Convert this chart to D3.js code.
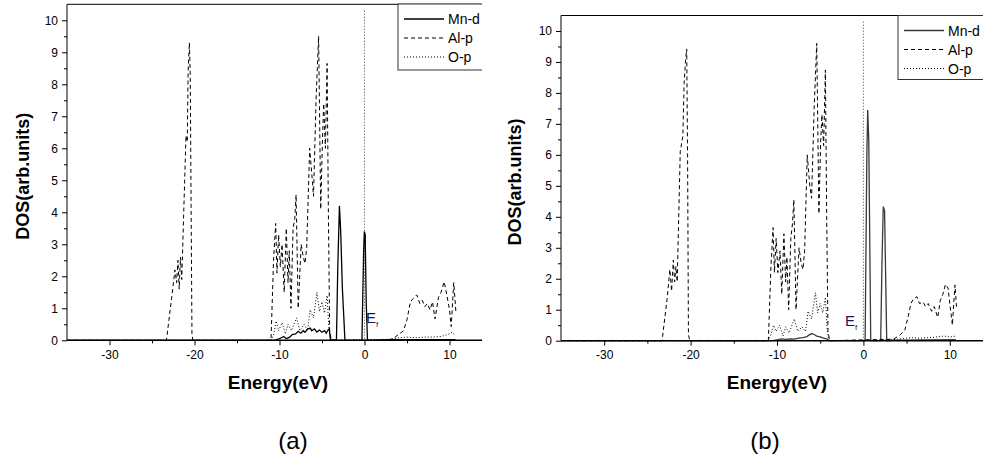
<!DOCTYPE html>
<html>
<head>
<meta charset="utf-8">
<script src="https://cdn.jsdelivr.net/npm/d3@7"></script>
<style>
  body { margin: 0; background: #fff; }
  svg { display: block; font-family: "Liberation Sans", Arial, sans-serif; }
</style>
</head>
<body>
<script>
// [energy (eV), DOS]
const mnA = [[-35,0],[-10.6,0],[-10,0.05],[-9.5,0.12],[-9.2,0.05],[-8.8,0.1],[-8.5,0.18],[-8.1,0.2],[-7.8,0.28],[-7.5,0.22],[-7.2,0.3],[-7.0,0.25],[-6.7,0.35],[-6.4,0.38],[-6.2,0.3],[-5.9,0.36],[-5.6,0.26],[-5.3,0.32],[-5.0,0.25],[-4.7,0.3],[-4.5,0.22],[-4.3,0.32],[-4.15,0.36],[-4.0,0.02],[-3.3,0],[-3.15,2.2],[-2.95,4.2],[-2.8,3.4],[-2.6,1.6],[-2.3,0],[-0.3,0],[-0.1,2.8],[-0.02,3.4],[0.08,3.3],[0.2,1.2],[0.35,0],[3.0,0.02],[10.7,0.02]];
const alA = [[-35,0],[-23.3,0],[-22.7,1.3],[-22.3,2.2],[-22.1,1.8],[-21.95,2.5],[-21.8,1.6],[-21.65,2.6],[-21.5,1.9],[-21.0,6.4],[-20.85,6.2],[-20.75,8.4],[-20.6,9.3],[-20.5,8.3],[-20.4,4.2],[-20.3,0.2],[-20.2,0],[-11.0,0],[-10.7,2.5],[-10.45,3.65],[-10.3,2.1],[-10.1,3.3],[-9.9,2.3],[-9.7,3.0],[-9.45,1.5],[-9.2,3.5],[-9.0,1.8],[-8.85,2.8],[-8.65,1.0],[-8.4,3.5],[-8.2,3.8],[-8.05,4.55],[-7.8,1.0],[-7.45,3.0],[-7.2,2.6],[-7.0,2.4],[-6.8,2.9],[-6.45,6.0],[-6.2,5.2],[-6.0,4.5],[-5.7,7.5],[-5.4,9.5],[-5.15,4.1],[-4.95,6.2],[-4.8,7.4],[-4.6,6.0],[-4.4,8.65],[-4.25,4.0],[-4.1,0.3],[-3.9,0],[2.8,0],[3.5,0.08],[4.2,0.22],[4.6,0.3],[5.0,0.65],[5.4,1.2],[5.7,1.3],[6.15,1.42],[6.5,1.15],[6.8,1.25],[7.1,1.05],[7.4,1.15],[7.7,0.95],[8.0,1.2],[8.3,0.67],[8.7,1.34],[9.0,1.5],[9.37,1.83],[9.7,1.4],[10.0,0.95],[10.2,0.43],[10.5,1.8],[10.75,0.9]];
const oA = [[-35,0],[-11.0,0],[-10.7,0.15],[-10.4,0.6],[-10.1,0.3],[-9.7,0.55],[-9.3,0.2],[-9.0,0.5],[-8.6,0.3],[-8.0,0.7],[-7.6,0.3],[-7.1,0.5],[-6.7,0.3],[-6.4,0.95],[-6.0,0.7],[-5.6,1.5],[-5.3,0.9],[-5.0,1.2],[-4.7,0.85],[-4.4,1.4],[-4.2,0.4],[-4.0,0],[3.0,0.03],[4.0,0.08],[5.0,0.1],[6.0,0.08],[7.0,0.1],[8.0,0.1],[9.0,0.12],[9.8,0.18],[10.3,0.25],[10.7,0.15]];

const mnB = [[-35,0],[-10.5,0],[-10,0.03],[-9.5,0.06],[-9.0,0.04],[-8.5,0.06],[-8.0,0.05],[-7.5,0.08],[-7.0,0.1],[-6.6,0.12],[-6.3,0.18],[-6.0,0.23],[-5.7,0.2],[-5.4,0.15],[-5.0,0.12],[-4.6,0.08],[-4.2,0.05],[-3.9,0],[0.2,0],[0.4,6.0],[0.5,7.45],[0.62,6.5],[0.85,0],[2.0,0],[2.15,2.5],[2.3,4.33],[2.45,4.2],[2.7,0],[3.5,0.02],[10.7,0.03]];
const alB = [[-35,0],[-23.3,0],[-22.7,1.4],[-22.4,2.3],[-22.2,1.6],[-22.0,2.6],[-21.85,1.9],[-21.7,2.4],[-21.55,1.9],[-21.2,6.1],[-20.9,6.6],[-20.75,8.3],[-20.6,9.0],[-20.45,9.42],[-20.35,6.0],[-20.25,0.2],[-20.1,0],[-11.0,0],[-10.7,2.4],[-10.45,3.65],[-10.3,2.2],[-10.1,3.3],[-9.9,2.2],[-9.65,2.9],[-9.45,1.5],[-9.2,3.45],[-9.0,1.9],[-8.85,2.7],[-8.65,1.0],[-8.4,3.3],[-8.2,3.8],[-8.05,4.55],[-7.8,1.0],[-7.45,3.0],[-7.2,2.5],[-7.0,2.3],[-6.8,2.9],[-6.5,6.0],[-6.2,5.0],[-6.0,4.6],[-5.7,7.5],[-5.4,9.6],[-5.15,4.1],[-4.95,6.4],[-4.8,7.3],[-4.6,6.3],[-4.4,8.74],[-4.25,4.0],[-4.1,0.3],[-3.9,0],[3.5,0.05],[4.3,0.2],[4.8,0.35],[5.2,0.8],[5.5,1.2],[5.8,1.35],[6.2,1.42],[6.5,1.2],[6.9,1.25],[7.2,1.1],[7.5,1.2],[7.9,0.95],[8.2,1.1],[8.6,0.75],[8.9,1.3],[9.2,1.5],[9.5,1.82],[9.8,1.7],[10.0,1.2],[10.3,0.5],[10.6,1.8],[10.8,1.0]];
const oB = [[-35,0],[-11.0,0],[-10.7,0.2],[-10.4,0.5],[-10.1,0.3],[-9.7,0.5],[-9.3,0.15],[-9.0,0.45],[-8.6,0.25],[-8.0,0.7],[-7.6,0.3],[-7.1,0.45],[-6.7,0.3],[-6.4,0.95],[-6.0,0.7],[-5.55,1.55],[-5.3,0.9],[-5.0,1.2],[-4.7,0.9],[-4.4,1.4],[-4.2,0.4],[-4.0,0],[3.5,0.03],[4.5,0.07],[5.5,0.1],[6.5,0.08],[7.5,0.1],[8.5,0.12],[9.3,0.15],[10.0,0.12],[10.7,0.15]];

const xTicks = [-30, -20, -10, 0, 10];
const yTicks = d3.range(0, 11);
const legendNames = ["Mn-d", "Al-p", "O-p"];

const width = 983, height = 459;

const svg = d3.select("body").append("svg")
  .attr("width", width)
  .attr("height", height);

const panels = [
  { id: "a", clipX: 0, clipW: 482, left: 67, right: 492, top: 4.3, base: 340.3,
    series: [mnA, alA, oA], mnColor: "#000",
    legend: { x: 398, y: 4, w: 100, h: 66 },
    ef: { x: 366, y: 323 }, yLabelX: 24, xLabelX: 278, capX: 293 },
  { id: "b", clipX: 500, clipW: 483, left: 561, right: 993, top: 15.5, base: 340.7,
    series: [mnB, alB, oB], mnColor: "#3a3a3a",
    legend: { x: 898, y: 15.5, w: 100, h: 64 },
    ef: { x: 845, y: 326 }, yLabelX: 516, xLabelX: 777, capX: 765 }
];

const dashes = [null, "4,3", "1,2"];

panels.forEach(p => {
  svg.append("clipPath").attr("id", "clip-" + p.id)
    .append("rect").attr("x", p.clipX).attr("y", 0).attr("width", p.clipW).attr("height", height);

  const g = svg.append("g").attr("clip-path", `url(#clip-${p.id})`);

  const x = d3.scaleLinear().domain([-35, 15]).range([p.left, p.right]);
  const y = d3.scaleLinear().domain([0, 10.5]).range([p.base, p.top]);

  // frame top
  g.append("line").attr("x1", p.left).attr("x2", p.right)
    .attr("y1", p.top).attr("y2", p.top).attr("stroke", "#000");

  // Fermi level
  g.append("line")
    .attr("x1", x(0)).attr("x2", x(0))
    .attr("y1", y(10.3)).attr("y2", y(0))
    .attr("stroke", "#444").attr("stroke-width", 1).attr("stroke-dasharray", "1,2");

  const line = d3.line().x(d => x(d[0])).y(d => y(d[1]));

  p.series.forEach((s, i) => {
    g.append("path").datum(s)
      .attr("d", line)
      .attr("fill", "none")
      .attr("stroke", i === 0 ? p.mnColor : "#000")
      .attr("stroke-width", i === 0 ? 1.3 : 1)
      .attr("stroke-dasharray", dashes[i]);
  });

  // axes
  const xAxis = g.append("g").attr("transform", `translate(0,${p.base})`)
    .call(d3.axisBottom(x).tickValues(xTicks).tickSize(5).tickPadding(5).tickFormat(d => String(d)));
  g.append("g").attr("transform", `translate(0,${p.base})`)
    .call(d3.axisBottom(x).tickValues([-25, -15, -5, 5, 15]).tickSize(3).tickFormat(""))
    .call(a => a.select(".domain").remove());
  xAxis.select(".domain").attr("stroke-width", 1.6).attr("d", `M${p.left},0H${p.right}`);

  const yAxis = g.append("g").attr("transform", `translate(${p.left},0)`)
    .call(d3.axisLeft(y).tickValues(yTicks).tickSize(5).tickPadding(4).tickFormat(d => String(d)));
  g.append("g").attr("transform", `translate(${p.left},0)`)
    .call(d3.axisLeft(y).tickValues(d3.range(0.5, 10.5, 1)).tickSize(3).tickFormat(""))
    .call(a => a.select(".domain").remove());
  yAxis.select(".domain").attr("d", `M0,${p.top}V${p.base}`);

  g.selectAll(".tick text").attr("font-size", 12)
    .attr("font-family", "Liberation Sans, Arial, sans-serif").attr("fill", "#000");

  // legend
  const L = g.append("g").attr("transform", `translate(${p.legend.x},${p.legend.y})`);
  L.append("rect").attr("width", p.legend.w).attr("height", p.legend.h)
    .attr("fill", "#fff").attr("stroke", "#333");
  legendNames.forEach((name, i) => {
    const ly = 15 + i * 19;
    L.append("line").attr("x1", 6).attr("x2", 46).attr("y1", ly).attr("y2", ly)
      .attr("stroke", i === 0 ? p.mnColor : "#000")
      .attr("stroke-width", i === 0 ? 1.3 : 1)
      .attr("stroke-dasharray", dashes[i]);
    L.append("text").attr("x", 50).attr("y", ly + 5)
      .attr("font-size", 14).attr("fill", "#000").text(name);
  });

  // E_f label
  const ef = g.append("text").attr("x", p.ef.x).attr("y", p.ef.y)
    .attr("font-size", 15).attr("fill", "#1a1a4a");
  ef.append("tspan").text("E");
  ef.append("tspan").attr("font-size", 8).attr("dy", 4).text("f");

  // axis titles
  g.append("text")
    .attr("transform", `translate(${p.yLabelX},${(p.top + p.base) / 2 + 4}) rotate(-90)`)
    .attr("text-anchor", "middle").attr("dominant-baseline", "middle")
    .attr("font-size", 18).attr("font-weight", "bold").text("DOS(arb.units)");
  g.append("text").attr("x", p.xLabelX).attr("y", 389)
    .attr("text-anchor", "middle")
    .attr("font-size", 19).attr("font-weight", "bold").text("Energy(eV)");

  svg.append("text").attr("x", p.capX).attr("y", 449)
    .attr("text-anchor", "middle").attr("font-size", 24).text(`(${p.id})`);
});
</script>
</body>
</html>
